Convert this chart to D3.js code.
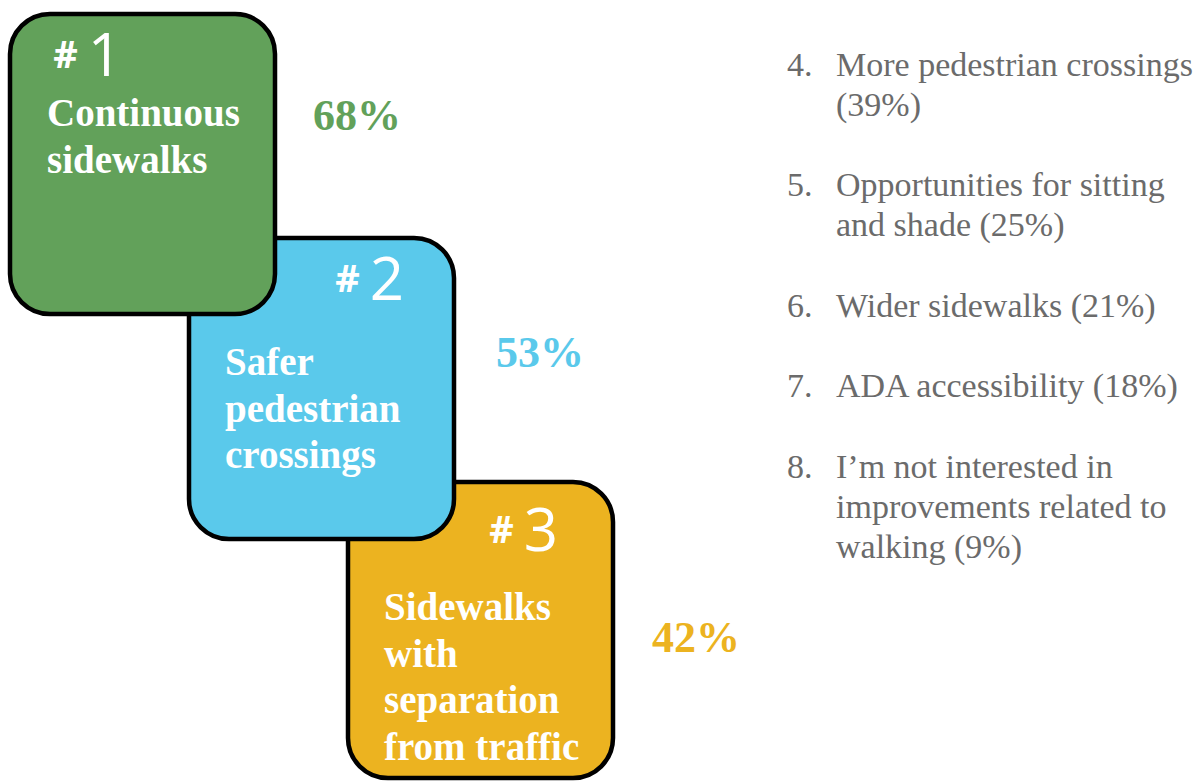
<!DOCTYPE html>
<html>
<head>
<meta charset="utf-8">
<script src="https://cdn.jsdelivr.net/npm/d3@7"></script>
<style>
	body { margin: 0; background: #fff; }
	svg { display: block; }
</style>
</head>
<body>
<div id="chart"></div>
<script>
// top three priorities
const ranks = [1, 2, 3];
const topLabels = [
	['Continuous', 'sidewalks'],
	['Safer', 'pedestrian', 'crossings'],
	['Sidewalks', 'with', 'separation', 'from traffic'],
];
const topValues = [68, 53, 42];
const topColors = ['#62a15a', '#5ac9eb', '#ecb320'];

// the rest of the list
const restRanks = [4, 5, 6, 7, 8];
const restLines = [
	['More pedestrian crossings'],
	['Opportunities for sitting', 'and shade'],
	['Wider sidewalks'],
	['ADA accessibility'],
	['I\u2019m not interested in', 'improvements related to', 'walking'],
];
const restValues = [39, 25, 21, 18, 9];

const width = 1201;
const height = 781;
const serif = '"Liberation Serif", "Times New Roman", serif';
const sans = '"Open Sans", "Noto Sans", sans-serif';

const svg = d3.select('#chart').append('svg')
		.attr('width', width)
		.attr('height', height);

// boxes are staggered by hand in the original, so ordinal scales carry the layout
const boxX = d3.scaleOrdinal().domain(ranks).range([10, 189, 348]);
const boxY = d3.scaleOrdinal().domain(ranks).range([14, 238, 482]);
const boxH = d3.scaleOrdinal().domain(ranks).range([300, 301, 296]);
const boxW = 265;
const badgeX = d3.scaleOrdinal().domain(ranks).range([122, 404, 558]);
const badgeY = d3.scaleOrdinal().domain(ranks).range([68, 292, 543]);
const labelX = d3.scaleOrdinal().domain(ranks).range([47, 225, 384]);
const labelY = d3.scaleOrdinal().domain(ranks).range([126, 375, 620]);
const pctX = d3.scaleOrdinal().domain(ranks).range([313, 496, 652]);
const pctY = d3.scaleOrdinal().domain(ranks).range([130, 367, 652]);
const color = d3.scaleOrdinal().domain(ranks).range(topColors);

const top3 = ranks.map((r, i) => ({rank: r, lines: topLabels[i], value: topValues[i]}));

// draw #3 first so #1 ends up on top
const groups = svg.selectAll('.box')
		.data(top3.slice().reverse())
		.enter().append('g')
		.attr('class', 'box');

groups.append('rect')
		.attr('x', (d) => boxX(d.rank))
		.attr('y', (d) => boxY(d.rank))
		.attr('width', boxW)
		.attr('height', (d) => boxH(d.rank))
		.attr('rx', 40)
		.attr('ry', 40)
		.style('fill', (d) => color(d.rank))
		.style('stroke', '#000')
		.style('stroke-width', 4.5);

const badge = groups.append('text')
		.attr('x', (d) => badgeX(d.rank))
		.attr('y', (d) => badgeY(d.rank))
		.style('text-anchor', 'end')
		.style('fill', '#fff')
		.style('font-family', sans);
badge.append('tspan')
		.style('font-size', '38px')
		.style('font-weight', 700)
		.text('#');
badge.append('tspan')
		.attr('dx', 10)
		.attr('dy', 8)
		.style('font-size', '60px')
		.style('font-weight', 400)
		.text((d) => d.rank);

groups.append('text')
		.attr('x', (d) => labelX(d.rank))
		.attr('y', (d) => labelY(d.rank))
		.style('fill', '#fff')
		.style('font-family', serif)
		.style('font-weight', 700)
		.style('font-size', '39px')
	.selectAll('tspan')
		.data((d) => d.lines.map((t) => ({t, x: labelX(d.rank)})))
		.enter().append('tspan')
		.attr('x', (d) => d.x)
		.attr('dy', (d, i) => i === 0 ? 0 : 46.5)
		.text((d) => d.t);

svg.selectAll('.pct')
		.data(top3)
		.enter().append('text')
		.attr('class', 'pct')
		.attr('x', (d) => pctX(d.rank))
		.attr('y', (d) => pctY(d.rank))
		.style('fill', (d) => color(d.rank))
		.style('font-family', serif)
		.style('font-weight', 700)
		.style('font-size', '44px')
		.text((d) => `${d.value}%`);

// right-hand list: one slot per line, plus one blank slot between items
const rest = restRanks.map((r, i) => {
	const lines = restLines[i].slice();
	const last = lines.length - 1;
	if (i === 0) lines.push(`(${restValues[i]}%)`);
	else lines[last] = `${lines[last]} (${restValues[i]}%)`;
	return {rank: r, lines};
});
let slot = 0;
rest.forEach((d) => {
	d.slot = slot;
	slot += d.lines.length + 1;
});
const listY = d3.scaleLinear().domain([0, 12]).range([75.5, 75.5 + 12 * 40.2]);
const numX = 787;
const textX = 836;

const items = svg.selectAll('.item')
		.data(rest)
		.enter().append('g')
		.attr('class', 'item')
		.style('fill', '#6b6b6b')
		.style('font-family', serif)
		.style('font-size', '34px');

items.append('text')
		.attr('x', numX)
		.attr('y', (d) => listY(d.slot))
		.text((d) => `${d.rank}.`);

items.selectAll('.line')
		.data((d) => d.lines.map((t, j) => ({t, slot: d.slot + j})))
		.enter().append('text')
		.attr('class', 'line')
		.attr('x', textX)
		.attr('y', (d) => listY(d.slot))
		.text((d) => d.t);
</script>
</body>
</html>
